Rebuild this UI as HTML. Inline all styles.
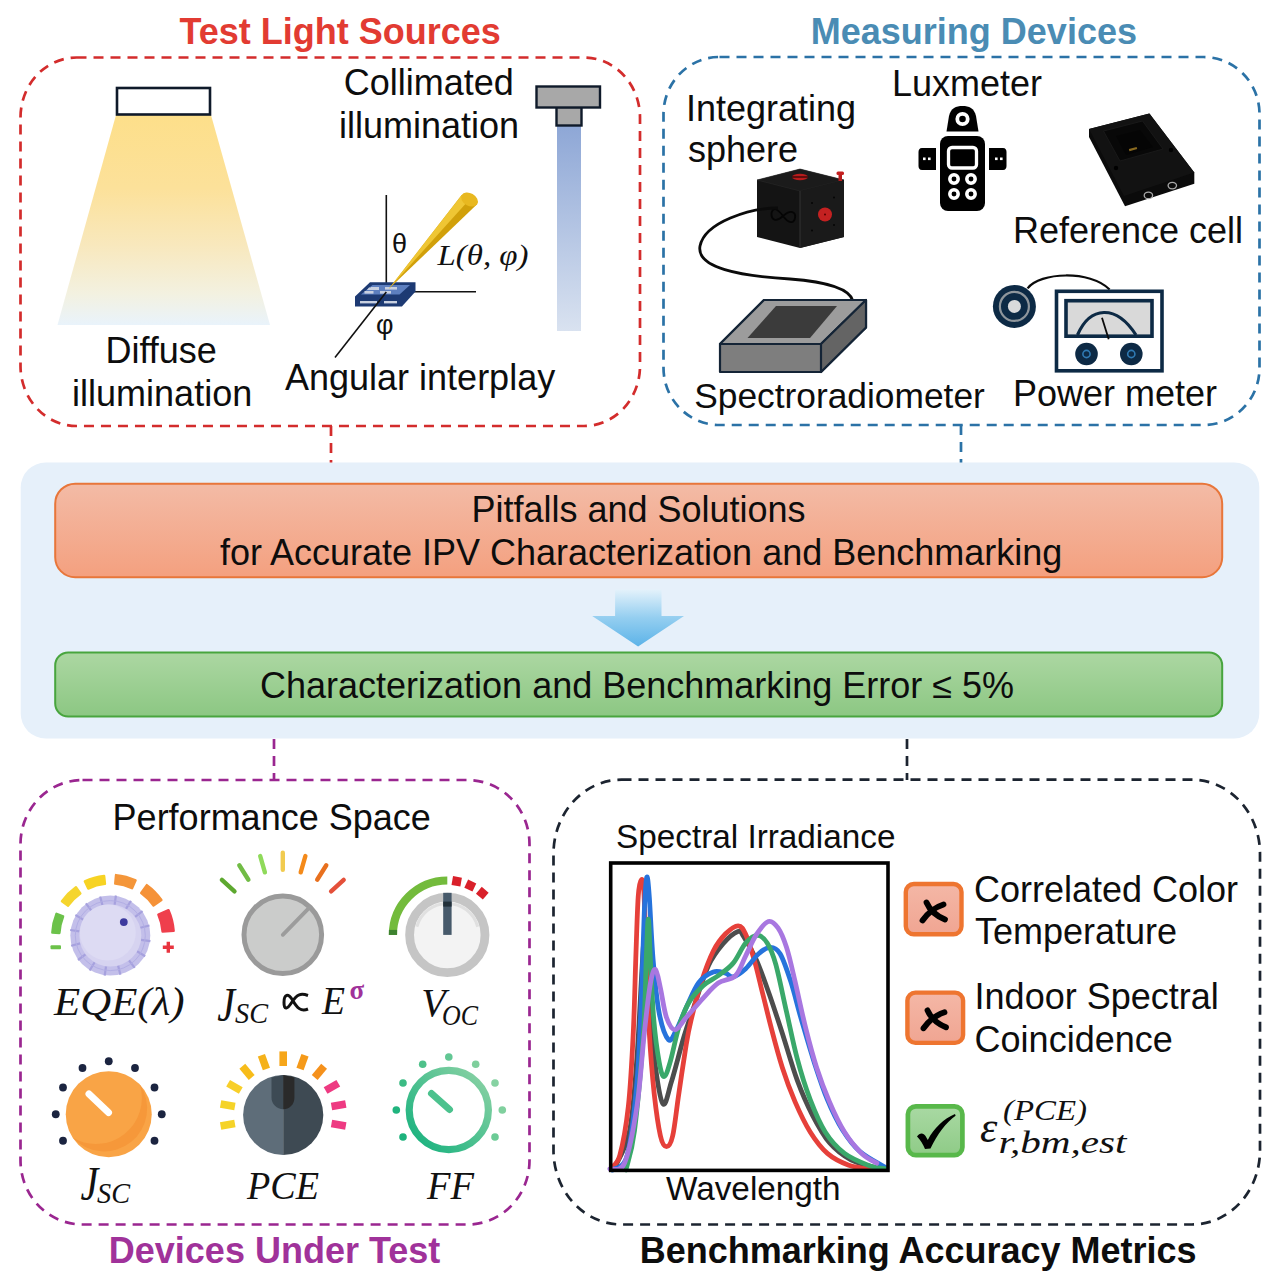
<!DOCTYPE html>
<html><head><meta charset="utf-8">
<style>
html,body{margin:0;padding:0;background:#fff;width:1280px;height:1280px;overflow:hidden}
svg{display:block}
text{font-family:"Liberation Sans",sans-serif}
.lb{font-size:36px;fill:#0d0d0d}
.bt{font-size:36px;font-weight:bold}
.m{font-family:"Liberation Serif",serif;font-style:italic;fill:#111}
</style></head><body>
<svg width="1280" height="1280" viewBox="0 0 1280 1280">
<defs>
<linearGradient id="gCone" x1="0" y1="0" x2="0" y2="1">
<stop offset="0" stop-color="#fddf8a"/><stop offset="0.35" stop-color="#fce19a"/><stop offset="0.62" stop-color="#f8e8bd"/><stop offset="0.85" stop-color="#f3f1e0"/><stop offset="1" stop-color="#e9f3fb"/>
</linearGradient>
<linearGradient id="gBeam" x1="0" y1="0" x2="0" y2="1">
<stop offset="0" stop-color="#8ea7d6"/><stop offset="1" stop-color="#d9e2f0"/>
</linearGradient>
<linearGradient id="gOr" x1="0" y1="0" x2="0" y2="1">
<stop offset="0" stop-color="#f3bba6"/><stop offset="1" stop-color="#f4a07f"/>
</linearGradient>
<linearGradient id="gGr" x1="0" y1="0" x2="0" y2="1">
<stop offset="0" stop-color="#acd7a2"/><stop offset="1" stop-color="#8cc783"/>
</linearGradient>
<linearGradient id="gArrow" x1="0" y1="0" x2="0" y2="1">
<stop offset="0" stop-color="#e4f2fb"/><stop offset="0.5" stop-color="#94cef0"/><stop offset="1" stop-color="#5cb3e8"/>
</linearGradient>
<linearGradient id="gXb" x1="0" y1="0" x2="0" y2="1">
<stop offset="0" stop-color="#f4b7a6"/><stop offset="1" stop-color="#f0a592"/>
</linearGradient>
<linearGradient id="gCk" x1="0" y1="0" x2="0" y2="1">
<stop offset="0" stop-color="#a9d9a3"/><stop offset="1" stop-color="#8fcb87"/>
</linearGradient>
<linearGradient id="gFF" x1="0" y1="1" x2="1" y2="0"><stop offset="0" stop-color="#12b07c"/><stop offset="1" stop-color="#8fd3a6"/></linearGradient>
</defs>

<!-- ============ dashed boxes ============ -->
<g fill="none" stroke-width="2.7" stroke-dasharray="10 7">
<rect x="20.5" y="57.5" width="619.5" height="368.5" rx="56" ry="60" stroke="#d32c2c"/>
<rect x="663.5" y="57" width="596" height="368" rx="56" ry="57" stroke="#2b72a6"/>
<rect x="20.5" y="780" width="509" height="444.5" rx="62" ry="64" stroke="#9a2690"/>
<rect x="553.5" y="779.7" width="706.5" height="444.8" rx="68" ry="74" stroke="#1c2430"/>
</g>
<g stroke-width="2.7" stroke-dasharray="10 7">
<line x1="331" y1="426" x2="331" y2="463" stroke="#d32c2c"/>
<line x1="961" y1="425" x2="961" y2="463" stroke="#2b72a6"/>
<line x1="274" y1="739" x2="274" y2="780" stroke="#9a2690"/>
<line x1="907" y1="739" x2="907" y2="780" stroke="#1c2430"/>
</g>

<!-- ============ titles ============ -->
<text class="bt" x="179.4" y="44.4" fill="#e23b32">Test Light Sources</text>
<text class="bt" x="810.8" y="44.1" fill="#4a8cb4">Measuring Devices</text>
<text class="bt" x="108.8" y="1262.6" fill="#a0329a">Devices Under Test</text>
<text class="bt" x="639.7" y="1263" fill="#0d0d0d">Benchmarking Accuracy Metrics</text>

<!-- ============ middle panel ============ -->
<rect x="20.7" y="462.5" width="1238.6" height="276" rx="25" fill="#e6f0fa"/>
<rect x="55.2" y="483.7" width="1167" height="93.5" rx="20" fill="url(#gOr)" stroke="#e8763a" stroke-width="2"/>
<rect x="55.2" y="652.5" width="1167" height="64" rx="13" fill="url(#gGr)" stroke="#48a53e" stroke-width="2"/>
<polygon points="615.1,589.4 661.5,589.4 661.5,616.1 684,616.1 638.1,646.5 592.2,616.1 615.1,616.1" fill="url(#gArrow)"/>
<text class="lb" x="471.4" y="522.2">Pitfalls and Solutions</text>
<text class="lb" x="219.9" y="564.7">for Accurate IPV Characterization and Benchmarking</text>
<text class="lb" x="260" y="697.5">Characterization and Benchmarking Error ≤ 5%</text>

<!-- ============ top-left labels ============ -->
<text class="lb" x="105.4" y="363">Diffuse</text>
<text class="lb" x="72.1" y="405.7">illumination</text>
<text class="lb" x="343.8" y="95">Collimated</text>
<text class="lb" x="339" y="137.5">illumination</text>
<text class="lb" x="285" y="390">Angular interplay</text>

<!-- ============ top-right labels ============ -->
<text class="lb" x="686" y="121">Integrating</text>
<text class="lb" x="688" y="162">sphere</text>
<text class="lb" x="892" y="95.6">Luxmeter</text>
<text class="lb" x="1013" y="243">Reference cell</text>
<text class="lb" x="694.2" y="407.5" style="font-size:35.35px">Spectroradiometer</text>
<text class="lb" x="1013" y="406">Power meter</text>

<!-- ============ bottom labels ============ -->
<text class="lb" x="112.6" y="829.8">Performance Space</text>
<text class="lb" x="616" y="847.7" style="font-size:33.3px">Spectral Irradiance</text>
<text class="lb" x="666" y="1200" style="font-size:33.3px">Wavelength</text>
<text class="lb" x="974" y="901.7">Correlated Color</text>
<text class="lb" x="975" y="944.1">Temperature</text>
<text class="lb" x="974.6" y="1009.3">Indoor Spectral</text>
<text class="lb" x="974.6" y="1052">Coincidence</text>


<!-- ===== lamp & cone ===== -->
<polygon points="116,115 211,115 270,325 57.5,325" fill="url(#gCone)"/>
<rect x="117" y="88" width="93" height="26.5" fill="#fff" stroke="#0f1a2a" stroke-width="2.6"/>
<!-- ===== collimator ===== -->
<rect x="557" y="126" width="24" height="205" fill="url(#gBeam)"/>
<rect x="556.5" y="107" width="25" height="18.5" fill="#a8a8a8" stroke="#0f1a2a" stroke-width="2.4"/>
<rect x="536.5" y="86.5" width="63.5" height="21" fill="#a8a8a8" stroke="#0f1a2a" stroke-width="2.4"/>
<!-- ===== angular ===== -->
<g stroke="#111" stroke-width="1.6" fill="none">
<line x1="386.3" y1="195" x2="386.3" y2="292"/>
<line x1="386" y1="291.8" x2="476" y2="291.8"/>
</g>
<polygon points="370,282.3 415.5,282.3 415.5,291.6 401.9,306.6 355,306.6 355,296.6" fill="#1d3a73"/>
<polygon points="372.5,285 410,285 399.5,294.5 361,294.5" fill="#5d7fbf"/>
<g fill="#c8d0e0">
<rect x="369" y="287.5" width="9" height="2.5" transform="skewX(-40)" style="transform-box:fill-box"/>
<rect x="371" y="287" width="8" height="3"/><rect x="385" y="287" width="12" height="2.6"/>
<rect x="364.5" y="291" width="9" height="2.6"/><rect x="380" y="291" width="11" height="2.6"/>
<rect x="360" y="301" width="17" height="2.4"/><rect x="384" y="301" width="13" height="2.4"/>
</g>
<line x1="386.3" y1="292" x2="335" y2="357.5" stroke="#111" stroke-width="1.6"/>
<polygon points="388.7,289 461.7,195 477.3,204" fill="#d1a00a"/>
<polygon points="388.7,289 461.7,195 469,200" fill="#efc634"/>
<ellipse cx="469.5" cy="199.5" rx="9" ry="6.3" transform="rotate(30 469.5 199.5)" fill="#e8b820"/>
<text x="392" y="252.5" style="font-size:27px" fill="#111">θ</text>
<text x="376" y="334" style="font-size:27px" fill="#111">φ</text>
<text class="m" x="437.5" y="265" style="font-size:28.5px" textLength="91" lengthAdjust="spacingAndGlyphs">L(θ, φ)</text>

<!-- ===== integrating sphere cube ===== -->
<path d="M757,180 L800,169 L844,180 L844,237 L800,248 L757,237 Z" fill="#141414"/>
<path d="M757,180 L800,169 L844,180 L800,191 Z" fill="#1b1b1b" stroke="#2a2a2a" stroke-width="0.6"/>
<path d="M800,191 L844,180 L844,237 L800,248 Z" fill="#1a1a1a"/>
<line x1="800" y1="191" x2="800" y2="248" stroke="#3a3a3a" stroke-width="0.8"/>
<ellipse cx="800" cy="177" rx="8" ry="3.3" fill="#b81c1c"/>
<rect x="792" y="176.3" width="16" height="1.4" fill="#3a0808"/>
<rect x="838.5" y="174" width="3.5" height="7" fill="#b81c1c"/><rect x="836.5" y="171.5" width="7.5" height="3.5" rx="1.5" fill="#c42020"/>
<circle cx="825" cy="214.5" r="7" fill="#c42121"/><circle cx="825" cy="214.5" r="1" fill="#500"/>
<g fill="#050505"><circle cx="812" cy="203" r="1"/><circle cx="834" cy="197.5" r="1"/><circle cx="812" cy="230.5" r="1"/><circle cx="834" cy="225" r="1"/></g>
<path d="M771.5,213 C773,207 777,208 783,216 C789,224 794,223.5 795,218 C796,212 791,209 783,216 C776,222.5 771,220 771.5,213 Z" fill="none" stroke="#050505" stroke-width="1.8"/>
<!-- cable -->
<path d="M778,208 C750,208 705,222 700,246 C696,268 740,276 790,279 C830,282 850,290 853,301" fill="none" stroke="#0b0b0b" stroke-width="2.8"/>
<!-- ===== spectroradiometer ===== -->
<path d="M720,344 L764,300 L866,300 L866,327.5 L821,372 L720,372 Z" fill="#7e7e7e" stroke="#142436" stroke-width="2.2" stroke-linejoin="round"/>
<path d="M720,344 L764,300 L866,300 L821,344 Z" fill="#9c9c9c" stroke="#142436" stroke-width="2.2" stroke-linejoin="round"/>
<path d="M821,344 L866,300 L866,327.5 L821,372 Z" fill="#646464" stroke="#142436" stroke-width="2.2" stroke-linejoin="round"/>
<path d="M776,306 L837,306 L810,338 L747.5,338 Z" fill="#3b3b3b"/>
<!-- ===== luxmeter ===== -->
<path d="M946.5,131.5 L949,116 C951,108 956,106 962.5,106 C969,106 974,108 976,116 L978.5,131.5 Z" fill="#000"/>
<circle cx="962.5" cy="119" r="5.2" fill="none" stroke="#fff" stroke-width="3.8"/>
<rect x="940" y="136" width="45" height="75" rx="8" fill="#000"/>
<rect x="948.5" y="147.5" width="28" height="20.5" rx="3.5" fill="#000" stroke="#fff" stroke-width="3.3"/>
<g fill="none" stroke="#fff" stroke-width="3.5"><circle cx="954" cy="179" r="4.2"/><circle cx="971" cy="179" r="4.2"/><circle cx="954" cy="194" r="4.2"/><circle cx="971" cy="194" r="4.2"/></g>
<path d="M936,148 L922,148 C919.5,148 918.5,150 918.5,152 L918.5,166 C918.5,168 919.5,170 922,170 L936,170 Z" fill="#000"/>
<path d="M989,148 L1003,148 C1005.5,148 1006.5,150 1006.5,152 L1006.5,166 C1006.5,168 1005.5,170 1003,170 L989,170 Z" fill="#000"/>
<g fill="#fff"><rect x="923" y="157.5" width="2.6" height="2.6"/><rect x="928" y="157.5" width="2.6" height="2.6"/><rect x="995" y="157.5" width="2.6" height="2.6"/><rect x="1000" y="157.5" width="2.6" height="2.6"/></g>
<!-- ===== reference cell ===== -->
<path d="M1089,129 L1149.4,113.4 L1194.3,172.5 L1194.3,183.7 L1125,206.2 L1089,137 Z" fill="#0b0b0b"/>
<path d="M1089,129 L1149.4,113.4 L1194.3,172.5 L1124,196 Z" fill="#121212"/>
<path d="M1103.5,131 L1142.5,121 L1163,149 L1120,161 Z" fill="#080808" stroke="#1c1c1c" stroke-width="0.8"/>
<path d="M1116,136 L1140,130 L1153,147 L1126,155 Z" fill="#050505"/>
<rect x="1129" y="148" width="8" height="2.2" fill="#8a6a20" transform="rotate(-15 1133 149)"/>
<g fill="none" stroke="#a8a8a8" stroke-width="1.3"><ellipse cx="1148.4" cy="195.4" rx="4.2" ry="3.2"/><ellipse cx="1172.3" cy="185.6" rx="4.2" ry="3.2"/></g>
<g fill="#000"><circle cx="1116" cy="168" r="2.2"/><circle cx="1171" cy="150" r="2.2"/></g>
<!-- ===== power meter ===== -->
<path d="M1027.6,288.3 C1040,272 1090,270 1109.6,289.5" fill="none" stroke="#0b0b0b" stroke-width="2.2"/>
<circle cx="1014.4" cy="306.4" r="21.5" fill="#0d2a45"/>
<circle cx="1014.4" cy="306.4" r="14.5" fill="none" stroke="#8f969c" stroke-width="2.2"/>
<circle cx="1014.4" cy="306.4" r="6.5" fill="#d9dadb"/>
<rect x="1056.5" y="291.3" width="105.5" height="79.5" fill="#fff" stroke="#0d2a45" stroke-width="3.6"/>
<rect x="1066" y="300.7" width="86" height="35.5" fill="#d9d9d9" stroke="#0d2a45" stroke-width="3.6"/>
<path d="M1077.5,335 C1090,306 1116,304 1136,335" fill="none" stroke="#0d2a45" stroke-width="3.2"/>
<line x1="1102" y1="317.8" x2="1108.7" y2="339.3" stroke="#0b0b0b" stroke-width="1.8"/>
<circle cx="1086.5" cy="354" r="11.3" fill="#0d2a45"/><circle cx="1131.3" cy="354" r="11.3" fill="#0d2a45"/>
<circle cx="1086.5" cy="354" r="3.6" fill="none" stroke="#2f7ab3" stroke-width="1.6"/><circle cx="1131.3" cy="354" r="3.6" fill="none" stroke="#2f7ab3" stroke-width="1.6"/>

<!--KNOBS-->
<path d="M52.32,932.66 A58.05,58.05 0 0 1 56.52,913.76 L63.09,916.43 A50.95,50.95 0 0 0 59.42,933.02 Z" fill="#6cc24a" stroke="#6cc24a" stroke-width="2.4" stroke-linejoin="round"/>
<path d="M61.96,901.25 A59.30,59.30 0 0 1 75.95,887.26 L80.35,893.46 A51.70,51.70 0 0 0 68.16,905.65 Z" fill="#f5d52e" stroke="#f5d52e" stroke-width="2.4" stroke-linejoin="round"/>
<path d="M84.83,881.22 A60.05,60.05 0 0 1 104.13,875.87 L104.96,883.93 A51.95,51.95 0 0 0 88.26,888.56 Z" fill="#f7d323" stroke="#f7d323" stroke-width="2.4" stroke-linejoin="round"/>
<path d="M116.02,875.07 A60.80,60.80 0 0 1 135.61,880.32 L132.03,888.14 A52.20,52.20 0 0 0 115.21,883.63 Z" fill="#f4963a" stroke="#f4963a" stroke-width="2.4" stroke-linejoin="round"/>
<path d="M146.83,885.13 A62.30,62.30 0 0 1 161.40,899.96 L153.52,905.45 A52.70,52.70 0 0 0 141.20,892.91 Z" fill="#f59238" stroke="#f59238" stroke-width="2.4" stroke-linejoin="round"/>
<path d="M168.53,910.16 A63.55,63.55 0 0 1 173.66,930.72 L162.60,931.58 A52.45,52.45 0 0 0 158.36,914.60 Z" fill="#ef3f4c" stroke="#ef3f4c" stroke-width="2.4" stroke-linejoin="round"/>
<rect x="50.5" y="945.3" width="10.5" height="4" rx="1" fill="#6cc24a"/>
<path d="M162.8,947.3 h11 M168.3,941.8 v11" stroke="#e8343f" stroke-width="3.4"/>
<circle cx="110.3" cy="935.6" r="40" fill="#c3bfea"/>
<line x1="141.0" y1="939.9" x2="150.4" y2="941.2" stroke="#a6a1de" stroke-width="2.2"/>
<line x1="137.0" y1="951.3" x2="145.2" y2="956.2" stroke="#a6a1de" stroke-width="2.2"/>
<line x1="129.0" y1="960.4" x2="134.7" y2="967.9" stroke="#a6a1de" stroke-width="2.2"/>
<line x1="118.1" y1="965.6" x2="120.4" y2="974.8" stroke="#a6a1de" stroke-width="2.2"/>
<line x1="106.0" y1="966.3" x2="104.7" y2="975.7" stroke="#a6a1de" stroke-width="2.2"/>
<line x1="94.6" y1="962.3" x2="89.7" y2="970.5" stroke="#a6a1de" stroke-width="2.2"/>
<line x1="85.5" y1="954.3" x2="78.0" y2="960.0" stroke="#a6a1de" stroke-width="2.2"/>
<line x1="80.3" y1="943.4" x2="71.1" y2="945.7" stroke="#a6a1de" stroke-width="2.2"/>
<line x1="79.6" y1="931.3" x2="70.2" y2="930.0" stroke="#a6a1de" stroke-width="2.2"/>
<line x1="83.6" y1="919.9" x2="75.4" y2="915.0" stroke="#a6a1de" stroke-width="2.2"/>
<line x1="91.6" y1="910.8" x2="85.9" y2="903.3" stroke="#a6a1de" stroke-width="2.2"/>
<line x1="102.5" y1="905.6" x2="100.2" y2="896.4" stroke="#a6a1de" stroke-width="2.2"/>
<line x1="114.6" y1="904.9" x2="115.9" y2="895.5" stroke="#a6a1de" stroke-width="2.2"/>
<line x1="126.0" y1="908.9" x2="130.9" y2="900.7" stroke="#a6a1de" stroke-width="2.2"/>
<line x1="135.1" y1="916.9" x2="142.6" y2="911.2" stroke="#a6a1de" stroke-width="2.2"/>
<line x1="140.3" y1="927.8" x2="149.5" y2="925.5" stroke="#a6a1de" stroke-width="2.2"/>
<circle cx="110.3" cy="935.6" r="35" fill="none" stroke="#b2aee4" stroke-width="1"/>
<circle cx="110.3" cy="935.6" r="31" fill="#d6d3f0"/>
<circle cx="107.8" cy="932.6" r="28" fill="#dddbf3"/>
<circle cx="123.8" cy="922.1" r="3.9" fill="#3d3a9e"/>
<line x1="234.5" y1="891.3" x2="221.9" y2="879.9" stroke="#5da82f" stroke-width="4.4" stroke-linecap="round"/>
<line x1="248.4" y1="879.7" x2="239.3" y2="865.3" stroke="#71bc45" stroke-width="4.4" stroke-linecap="round"/>
<line x1="264.9" y1="872.3" x2="260.2" y2="856.0" stroke="#8fda5a" stroke-width="4.4" stroke-linecap="round"/>
<line x1="282.8" y1="869.8" x2="282.8" y2="852.8" stroke="#f1cb4f" stroke-width="4.4" stroke-linecap="round"/>
<line x1="300.7" y1="872.3" x2="305.4" y2="856.0" stroke="#f48a1a" stroke-width="4.4" stroke-linecap="round"/>
<line x1="317.2" y1="879.7" x2="326.3" y2="865.3" stroke="#e8701e" stroke-width="4.4" stroke-linecap="round"/>
<line x1="331.1" y1="891.3" x2="343.7" y2="879.9" stroke="#e4503a" stroke-width="4.4" stroke-linecap="round"/>
<circle cx="282.8" cy="934.8" r="38.8" fill="#cbcccb" stroke="#9a9a9a" stroke-width="5"/>
<line x1="282.8" y1="934.8" x2="309.6" y2="907.4" stroke="#9c9c9c" stroke-width="3.8" stroke-linecap="round"/>
<path d="M392.90,934.90 A54.4,54.4 0 0 1 447.30,880.50" fill="none" stroke="#73bb3c" stroke-width="8.2"/>
<rect x="388.9" y="929.9" width="8.2" height="5" fill="#3e8230"/>
<rect x="452.2" y="876.8" width="9" height="9" fill="#d9202a" transform="rotate(10 456.7 881.3)"/>
<rect x="465.8" y="881.1" width="9" height="9" fill="#d9202a" transform="rotate(25 470.3 885.6)"/>
<rect x="477.8" y="888.7" width="9" height="9" fill="#d9202a" transform="rotate(40 482.3 893.2)"/>
<circle cx="447.3" cy="934.9" r="37.7" fill="#f3f3f3" stroke="#c5c5c5" stroke-width="8.8"/>
<path d="M416.87,926.75 A31.5,31.5 0 0 1 477.73,926.75" fill="none" stroke="#e0e0e0" stroke-width="3"/>
<rect x="443.2" y="892.8" width="8.4" height="42.1" fill="#475a6b"/>
<rect x="443.2" y="901.6" width="8.4" height="5" fill="#22303a"/>
<circle cx="108.75" cy="1061.25" r="3.9" fill="#1b2440"/>
<circle cx="82.5" cy="1068" r="3.9" fill="#1b2440"/>
<circle cx="135" cy="1068" r="3.9" fill="#1b2440"/>
<circle cx="63" cy="1087.5" r="3.9" fill="#1b2440"/>
<circle cx="154.5" cy="1087.5" r="3.9" fill="#1b2440"/>
<circle cx="55.75" cy="1114.25" r="3.9" fill="#1b2440"/>
<circle cx="161.75" cy="1114.25" r="3.9" fill="#1b2440"/>
<circle cx="63" cy="1140.75" r="3.9" fill="#1b2440"/>
<circle cx="154.5" cy="1140.75" r="3.9" fill="#1b2440"/>
<circle cx="108.75" cy="1114.25" r="43" fill="#f9a446"/>
<path d="M139.75,1084.25 A43,43 0 0 1 72.75,1137.75 A46,46 0 0 0 139.75,1084.25 Z" fill="#f6983a"/>
<line x1="89" y1="1094" x2="108.5" y2="1112.5" stroke="#fff" stroke-width="7" stroke-linecap="round"/>
<line x1="234.9" y1="1123.5" x2="220.6" y2="1126.0" stroke="#f5d328" stroke-width="7.6"/>
<line x1="234.9" y1="1106.5" x2="220.6" y2="1104.0" stroke="#f5d328" stroke-width="7.6"/>
<line x1="240.8" y1="1090.5" x2="228.1" y2="1083.2" stroke="#f8cf2a" stroke-width="7.6"/>
<line x1="251.7" y1="1077.5" x2="242.3" y2="1066.3" stroke="#f7bc1a" stroke-width="7.6"/>
<line x1="266.4" y1="1069.0" x2="261.4" y2="1055.2" stroke="#f5b21a" stroke-width="7.6"/>
<line x1="283.2" y1="1066.0" x2="283.2" y2="1051.4" stroke="#f6a61a" stroke-width="7.6"/>
<line x1="300.0" y1="1069.0" x2="305.0" y2="1055.2" stroke="#f59a1a" stroke-width="7.6"/>
<line x1="314.7" y1="1077.5" x2="324.1" y2="1066.3" stroke="#f5911c" stroke-width="7.6"/>
<line x1="325.6" y1="1090.5" x2="338.3" y2="1083.2" stroke="#ee3a82" stroke-width="7.6"/>
<line x1="331.5" y1="1106.5" x2="345.8" y2="1104.0" stroke="#ee3a82" stroke-width="7.6"/>
<line x1="331.5" y1="1123.5" x2="345.8" y2="1126.0" stroke="#ee3a82" stroke-width="7.6"/>
<path d="M283.2,1074.9 A40.1,40.1 0 0 0 283.2,1155.1 Z" fill="#5e6d79"/>
<path d="M283.2,1074.9 A40.1,40.1 0 0 1 283.2,1155.1 Z" fill="#3e4a53"/>
<path d="M271.5,1077.5 L271.5,1097.5 A11.7,11.7 0 0 0 283.2,1109.2 L283.2,1075 Z" fill="#3d4a54"/>
<path d="M283.2,1075 L283.2,1109.2 A11.2,11.2 0 0 0 294.4,1098 L294.4,1077.5 Z" fill="#2a2a2a"/>
<circle cx="448.8" cy="1057" r="3.8" fill="#62c794"/>
<circle cx="422.7" cy="1064.2" r="3.8" fill="#4ec18a"/>
<circle cx="475.7" cy="1064.2" r="3.8" fill="#7fcf9c"/>
<circle cx="403" cy="1083" r="3.8" fill="#3bbb84"/>
<circle cx="495" cy="1083" r="3.8" fill="#86d2a2"/>
<circle cx="396.3" cy="1110" r="3.8" fill="#20b47e"/>
<circle cx="502.3" cy="1110" r="3.8" fill="#80d09e"/>
<circle cx="403" cy="1137" r="3.8" fill="#1cb27c"/>
<circle cx="495" cy="1137" r="3.8" fill="#6ccb96"/>
<circle cx="448.8" cy="1110" r="39.6" fill="none" stroke="url(#gFF)" stroke-width="7.2"/>
<line x1="431.5" y1="1093.5" x2="449.5" y2="1109.5" stroke="#4cc28e" stroke-width="7" stroke-linecap="round"/>
<!--/KNOBS-->
<!--CHART-->
<g fill="none" stroke-width="4.8" stroke-linejoin="round" stroke-linecap="round">
<path d="M614.8,1167.6 C617.3,1161.4 625.9,1149.1 629.6,1130.7 C633.3,1112.3 635.0,1083.7 637.0,1057.0 C639.0,1030.3 640.7,990.1 641.9,970.8 C643.1,951.5 643.4,939.2 644.4,941.2 C645.4,943.2 646.5,963.7 648.1,983.0 C649.7,1002.3 651.8,1036.9 654.2,1057.0 C656.7,1077.1 659.9,1099.6 662.8,1103.7 C665.7,1107.8 668.0,1092.6 671.5,1081.5 C675.0,1070.4 680.1,1049.5 683.8,1037.2 C687.5,1024.9 689.5,1019.6 693.6,1007.7 C697.7,995.8 703.5,976.5 708.4,965.8 C713.3,955.1 718.2,949.4 723.1,943.7 C728.0,938.0 734.5,932.6 737.9,931.4 C741.3,930.2 740.5,931.7 743.6,936.5 C746.7,941.3 752.2,950.4 756.5,960.1 C760.8,969.8 765.1,982.3 769.4,994.5 C773.7,1006.7 777.6,1018.9 782.3,1033.2 C786.9,1047.5 792.3,1066.8 797.3,1080.4 C802.3,1094.0 806.9,1104.4 812.3,1114.8 C817.7,1125.2 823.0,1135.2 829.5,1142.7 C836.0,1150.2 843.5,1155.8 851.0,1159.9 C858.5,1164.0 870.7,1166.2 874.6,1167.4" stroke="#4d4d4d"/>
<path d="M611.2,1167.6 C612.6,1165.5 616.9,1165.6 619.8,1155.3 C622.7,1145.0 626.1,1126.5 628.4,1106.0 C630.6,1085.5 632.1,1056.9 633.3,1032.3 C634.5,1007.7 635.0,981.0 635.8,958.4 C636.6,935.8 637.3,910.0 638.2,896.9 C639.1,883.8 640.5,880.5 641.4,879.7 C642.3,878.9 643.1,878.9 643.9,892.0 C644.7,905.1 645.4,935.0 646.3,958.4 C647.2,981.8 648.0,1009.7 649.3,1032.3 C650.6,1054.9 652.4,1076.6 654.2,1093.8 C656.1,1111.0 658.4,1126.9 660.4,1135.7 C662.4,1144.5 664.5,1146.7 666.5,1146.7 C668.5,1146.7 670.7,1144.5 672.7,1135.7 C674.8,1126.9 676.5,1109.0 678.8,1093.8 C681.0,1078.6 684.2,1056.9 686.2,1044.6 C688.2,1032.3 688.6,1030.3 691.1,1020.0 C693.6,1009.7 697.3,994.5 701.0,983.0 C704.7,971.5 709.2,959.2 713.3,951.0 C717.4,942.8 721.5,938.0 725.6,933.8 C729.8,929.6 734.9,925.7 738.2,925.8 C741.6,925.9 743.0,928.7 745.7,934.4 C748.4,940.1 751.4,950.1 754.3,960.1 C757.2,970.1 760.0,983.0 762.9,994.5 C765.8,1006.0 768.3,1016.7 771.5,1028.9 C774.7,1041.1 778.4,1055.3 782.3,1067.5 C786.2,1079.7 790.5,1091.2 795.1,1101.9 C799.8,1112.7 804.8,1123.4 810.2,1132.0 C815.6,1140.6 821.0,1147.9 827.4,1153.4 C833.8,1158.9 841.3,1162.5 848.8,1165.2 C856.3,1167.9 868.5,1168.8 872.5,1169.5" stroke="#e6403a"/>
<path d="M612.4,1170.0 C614.9,1167.5 623.1,1170.0 627.2,1155.3 C631.3,1140.5 634.5,1110.2 637.0,1081.5 C639.5,1052.8 640.7,1011.7 641.9,983.0 C643.1,954.3 643.6,926.8 644.4,909.2 C645.2,891.6 646.0,879.2 646.8,877.2 C647.6,875.2 648.3,883.4 649.3,896.9 C650.3,910.4 651.4,939.1 653.0,958.4 C654.6,977.7 656.5,999.0 659.1,1012.6 C661.7,1026.2 665.6,1036.8 668.5,1039.7 C671.4,1042.6 673.4,1035.1 676.4,1029.8 C679.4,1024.5 682.5,1015.5 686.2,1007.7 C689.9,999.9 694.0,989.0 698.5,983.0 C703.0,977.0 708.8,973.6 713.3,972.0 C717.8,970.4 722.3,972.4 725.6,973.2 C728.9,974.0 729.6,977.6 733.0,976.9 C736.4,976.1 741.4,972.6 745.7,968.7 C750.0,964.8 754.5,957.3 758.6,953.7 C762.7,950.1 766.8,947.3 770.4,947.3 C774.0,947.3 776.7,948.0 780.1,953.7 C783.5,959.4 787.2,970.5 790.8,981.6 C794.4,992.7 797.6,1006.7 801.6,1020.3 C805.6,1033.9 810.2,1050.0 814.5,1063.2 C818.8,1076.4 822.8,1088.6 827.4,1099.7 C832.0,1110.8 837.0,1121.2 842.4,1129.8 C847.8,1138.4 852.5,1145.0 859.6,1151.3 C866.8,1157.6 881.0,1164.7 885.3,1167.4" stroke="#2673dc"/>
<path d="M625.9,1170.0 C627.3,1163.5 631.6,1153.7 634.5,1130.7 C637.4,1107.7 641.5,1060.8 643.5,1032.0 C645.5,1003.2 645.5,976.8 646.3,958.0 C647.1,939.2 647.6,919.1 648.3,919.1 C649.0,919.1 649.4,941.2 650.3,958.0 C651.2,974.8 652.3,1002.7 653.8,1020.0 C655.3,1037.3 657.4,1052.4 659.1,1061.8 C660.8,1071.2 662.2,1076.6 664.1,1076.6 C666.0,1076.6 667.8,1070.0 670.2,1061.8 C672.7,1053.6 675.7,1037.2 678.8,1027.4 C681.9,1017.6 684.6,1009.8 688.7,1002.8 C692.8,995.8 698.5,990.0 703.4,985.5 C708.3,981.0 713.3,979.4 718.2,975.7 C723.1,972.0 728.4,968.9 733.0,963.4 C737.6,957.9 741.6,947.7 745.7,943.0 C749.8,938.3 754.0,935.4 757.6,935.4 C761.2,935.4 764.2,938.2 767.2,943.0 C770.2,947.8 772.6,952.9 775.8,964.4 C779.0,975.9 782.9,996.0 786.5,1011.7 C790.1,1027.5 793.3,1044.2 797.3,1058.9 C801.2,1073.6 805.6,1087.5 810.2,1099.7 C814.9,1111.9 819.5,1123.0 825.2,1132.0 C830.9,1141.0 837.3,1147.9 844.5,1153.4 C851.7,1158.9 861.4,1162.6 868.2,1165.2 C875.0,1167.8 882.4,1168.3 885.3,1168.9" stroke="#3aa86a"/>
<path d="M609.9,1168.9 C612.4,1167.9 620.2,1173.2 624.7,1162.7 C629.2,1152.2 633.7,1127.7 637.0,1106.0 C640.3,1084.3 642.1,1052.8 644.4,1032.3 C646.6,1011.8 648.6,993.5 650.5,983.0 C652.4,972.5 653.9,968.7 655.5,969.5 C657.1,970.3 658.6,980.0 660.4,988.0 C662.2,996.0 664.0,1010.5 666.5,1017.5 C669.0,1024.5 671.8,1029.8 675.1,1029.8 C678.4,1029.8 681.5,1022.8 686.2,1017.5 C690.9,1012.2 698.1,1003.5 703.4,997.8 C708.7,992.0 712.9,986.7 718.2,983.0 C723.5,979.3 730.8,980.2 735.4,975.7 C740.0,971.2 742.2,962.7 745.7,955.8 C749.2,948.9 752.7,940.1 756.5,934.4 C760.3,928.7 764.7,922.6 768.3,921.5 C771.9,920.4 775.0,923.6 778.0,927.9 C781.0,932.2 783.6,938.3 786.5,947.3 C789.4,956.2 791.9,968.0 795.1,981.6 C798.3,995.2 802.3,1014.6 805.9,1028.9 C809.5,1043.2 812.7,1055.3 816.6,1067.5 C820.5,1079.7 824.9,1091.2 829.5,1101.9 C834.1,1112.7 839.1,1123.4 844.5,1132.0 C849.9,1140.6 856.3,1148.2 861.7,1153.4 C867.1,1158.6 874.3,1161.5 876.8,1163.1" stroke="#a877e0"/>
</g>
<rect x="610.7" y="863" width="277.3" height="307.4" fill="none" stroke="#000" stroke-width="3.6"/>
<!--/CHART-->

<!-- ===== check boxes ===== -->
<rect x="905.8" y="884" width="55.7" height="50.3" rx="8" fill="url(#gXb)" stroke="#ee7530" stroke-width="4.4"/>
<rect x="907.4" y="992.6" width="55.7" height="50.3" rx="8" fill="url(#gXb)" stroke="#ee7530" stroke-width="4.4"/>
<rect x="907.9" y="1106.3" width="54.5" height="48.9" rx="8" fill="url(#gCk)" stroke="#58b84a" stroke-width="4.7"/>
<g fill="none" stroke="#000" stroke-linecap="round">
<path d="M926.5,902.5 Q931.5,914 945,919.5" stroke-width="5.8"/>
<path d="M943.5,904.5 Q931,908.5 922.5,920.5" stroke-width="5.8"/>
<path d="M927.5,1010.3 Q932.5,1021.8 946,1027.3" stroke-width="5.8"/>
<path d="M944.5,1012.3 Q932,1016.3 923.5,1028.3" stroke-width="5.8"/>
</g>
<path d="M917,1136.5 C919.5,1132.5 923.5,1132.5 925.5,1136 L927.8,1140 C934,1128 944,1118.5 955,1114 L955.6,1115.8 C946,1122.5 937.5,1134 930.5,1148.5 L925,1149 C923,1144 920.5,1140 917,1136.5 Z" fill="#000"/>
<!-- ===== math labels ===== -->
<text class="m" x="54" y="1015.3" style="font-size:41px" textLength="130.5" lengthAdjust="spacingAndGlyphs">EQE(λ)</text>
<text class="m" transform="translate(217.3,1020.5) scale(1,1.22)" x="0" y="0" style="font-size:40px">J</text>
<text class="m" x="235" y="1022.5" style="font-size:29px" textLength="33" lengthAdjust="spacingAndGlyphs">SC</text>
<path d="M308,995.5 C301,993 297,994 292,1002 C287.5,1009 284,1011 284,1002.5 C284,994 288,993 292.5,1000 C297,1008 301,1012 308,1009" fill="none" stroke="#111" stroke-width="3"/>
<text class="m" x="322" y="1013.8" style="font-size:40px" textLength="23" lengthAdjust="spacingAndGlyphs">E</text>
<text x="349.5" y="998.6" style="font-size:27px;font-weight:bold;font-family:'Liberation Serif',serif" fill="#a0329a">σ</text>
<text class="m" x="421.3" y="1016" style="font-size:40px">V</text>
<text class="m" x="442" y="1024.7" style="font-size:29px" textLength="36" lengthAdjust="spacingAndGlyphs">OC</text>
<text class="m" transform="translate(80.5,1200) scale(1,1.22)" x="0" y="0" style="font-size:40px">J</text>
<text class="m" x="97" y="1202.6" style="font-size:29px" textLength="33" lengthAdjust="spacingAndGlyphs">SC</text>
<text class="m" x="247" y="1199.3" style="font-size:40px" textLength="72" lengthAdjust="spacingAndGlyphs">PCE</text>
<text class="m" x="427" y="1198.6" style="font-size:40px" textLength="47" lengthAdjust="spacingAndGlyphs">FF</text>
<text class="m" x="980" y="1141.6" style="font-size:44px">ε</text>
<text class="m" x="1003" y="1119.5" style="font-size:29px" textLength="84" lengthAdjust="spacingAndGlyphs">(PCE)</text>
<text class="m" x="998.5" y="1152.8" style="font-size:31px" textLength="128" lengthAdjust="spacingAndGlyphs">r,bm,est</text>




</svg>
</body></html>
